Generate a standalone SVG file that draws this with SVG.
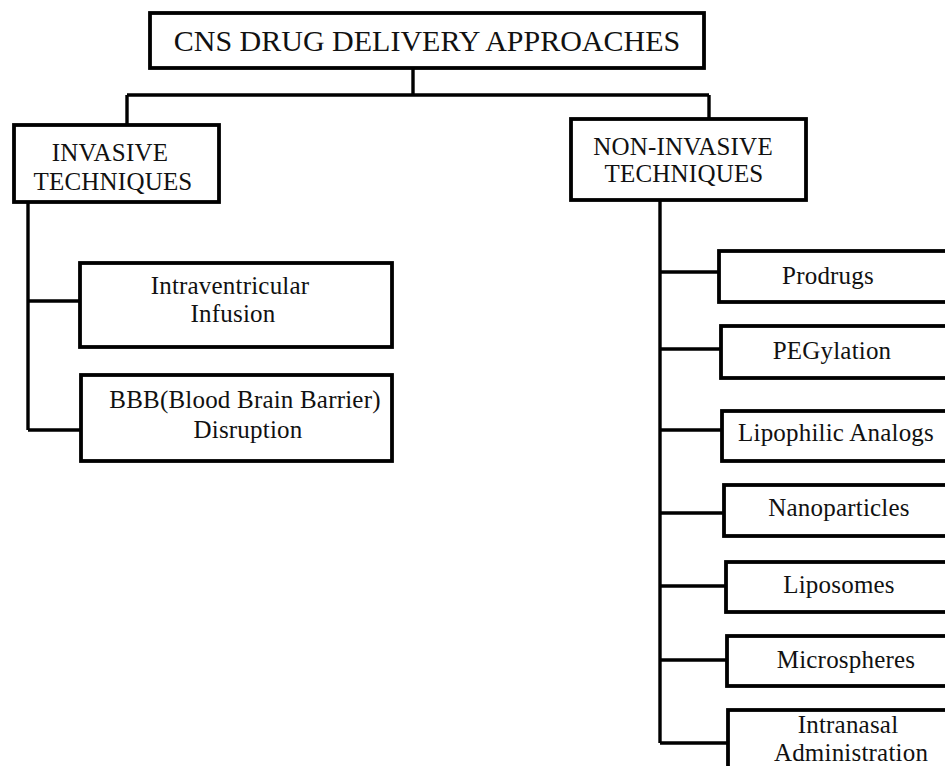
<svg xmlns="http://www.w3.org/2000/svg" width="945" height="766" viewBox="0 0 945 766">
<style>
.box{fill:#fff;stroke:#000;stroke-width:3.8}
.ln{fill:none;stroke:#000;stroke-width:3.4}
text{font-family:"Liberation Serif","Times New Roman",serif;fill:#111;text-anchor:middle}
.t{font-size:25px;letter-spacing:0.2px}
.title{font-size:30px}
</style>
<rect width="945" height="766" fill="#fff"/>
<g id="connectors">
<path class="ln" d="M413 68V95M127 95H709M127 95V125M709 95V119"/>
<path class="ln" d="M28 203V430M28 301H80M28 430H81"/>
<path class="ln" d="M660 200V743M660 272H719M660 349H721M660 430H722M660 513H724M660 586H726M660 660H727M660 743H728"/>
</g>
<g id="root"><rect class="box" x="150" y="13" width="554" height="55"/><text class="title" x="427" y="51">CNS DRUG DELIVERY APPROACHES</text></g>
<g id="invasive"><rect class="box" x="14" y="125" width="205" height="77"/><text class="t" x="110" y="161">INVASIVE</text><text class="t" x="113" y="190">TECHNIQUES</text></g>
<g id="noninvasive"><rect class="box" x="571" y="119" width="235" height="81"/><text class="t" x="683" y="155">NON-INVASIVE</text><text class="t" x="684" y="182">TECHNIQUES</text></g>
<g id="intraventricular"><rect class="box" x="80" y="263" width="312" height="84"/><text class="t" x="230" y="294">Intraventricular</text><text class="t" x="233" y="322">Infusion</text></g>
<g id="bbb"><rect class="box" x="81" y="375" width="311" height="86"/><text class="t" x="245" y="408">BBB(Blood Brain Barrier)</text><text class="t" x="248" y="438">Disruption</text></g>
<g id="prodrugs"><rect class="box" x="719" y="251" width="240" height="51"/><text class="t" x="828" y="284">Prodrugs</text></g>
<g id="pegylation"><rect class="box" x="721" y="326" width="240" height="52"/><text class="t" x="832" y="359">PEGylation</text></g>
<g id="lipophilic"><rect class="box" x="722" y="411" width="240" height="50"/><text class="t" x="836" y="441">Lipophilic Analogs</text></g>
<g id="nanoparticles"><rect class="box" x="724" y="485" width="240" height="51"/><text class="t" x="839" y="516">Nanoparticles</text></g>
<g id="liposomes"><rect class="box" x="726" y="562" width="240" height="50"/><text class="t" x="839" y="593">Liposomes</text></g>
<g id="microspheres"><rect class="box" x="727" y="636" width="240" height="50"/><text class="t" x="846" y="668">Microspheres</text></g>
<g id="intranasal"><rect class="box" x="728" y="710" width="240" height="80"/><text class="t" x="848" y="733">Intranasal</text><text class="t" x="851" y="761">Administration</text></g>
</svg>
